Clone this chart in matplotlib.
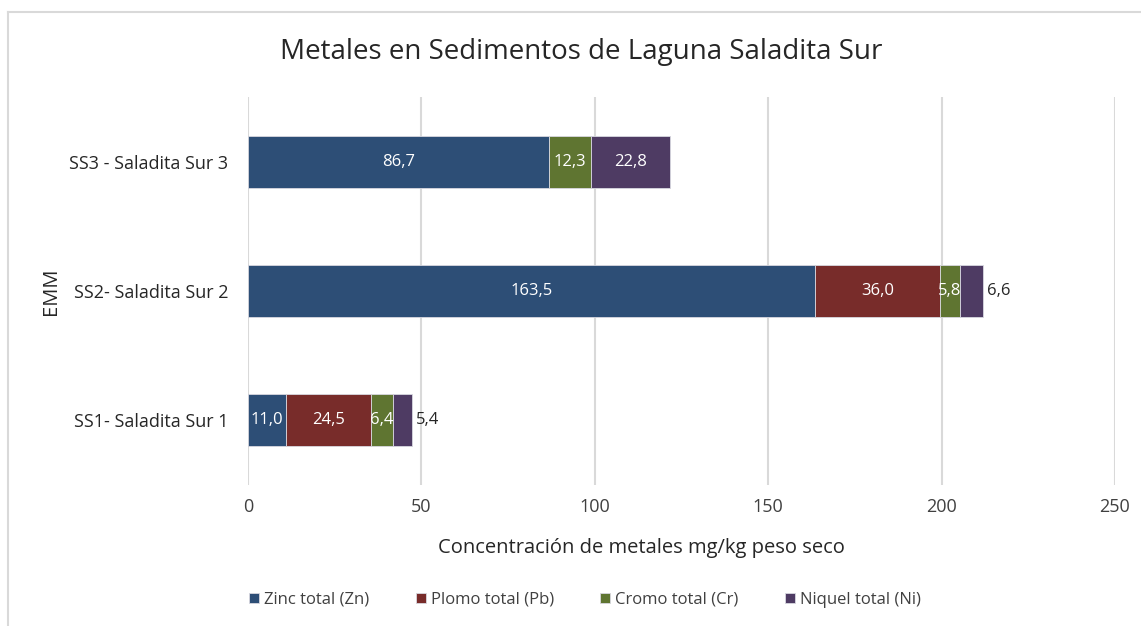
import matplotlib
matplotlib.use("Agg")
import matplotlib.pyplot as plt
import numpy as np

categories = ["SS1- Saladita Sur 1", "SS2- Saladita Sur 2", "SS3 - Saladita Sur 3"]
series_names = ["Zinc total (Zn)", "Plomo total (Pb)", "Cromo total (Cr)", "Niquel total (Ni)"]
zn = [11.0, 163.5, 86.7]
pb = [24.5, 36.0, 0.0]
cr = [6.4, 5.8, 12.3]
ni = [5.4, 6.6, 22.8]
colors = ["#2D4E76", "#782C2A", "#5F7531", "#4E3B63"]
xticks = [0, 50, 100, 150, 200, 250]

plt.rcParams['font.family'] = ['Open Sans', 'DejaVu Sans']

fig = plt.figure(figsize=(11.41, 6.26), dpi=100)
ax = fig.add_axes([248/1141, 1-485/626, (1115-248)/1141, (485-97)/626])

y = np.arange(len(categories))
left = np.zeros(len(categories))
for name, vals, col in zip(series_names, [zn, pb, cr, ni], colors):
    vals = np.array(vals)
    bars = ax.barh(y, vals, left=left, height=0.4, color=col, label=name,
                   edgecolor="#d8d8e0", linewidth=0.6)
    for i, (b, v) in enumerate(zip(bars, vals)):
        if v <= 0:
            continue
        txt = f"{v:.1f}".replace(".", ",")
        if name.startswith("Niquel") and v < 10:
            ax.annotate(txt, (left[i] + v, y[i]), xytext=(3, 0), textcoords="offset points",
                        ha="left", va="center", fontsize=12, color="#262626")
        else:
            ax.text(left[i] + v / 2, y[i], txt, ha="center", va="center",
                    fontsize=12, color="white")
    left = left + vals

ax.set_xlim(0, 250)
ax.set_ylim(-0.5, 2.5)
ax.set_xticks(xticks)
ax.set_xticklabels([str(t) for t in xticks], fontsize=13, color="#404040")
ax.set_yticks(y)
ax.set_yticklabels(categories, fontsize=13, color="#262626")
ax.tick_params(axis="both", length=0)
ax.tick_params(axis="x", pad=9)
ax.tick_params(axis="y", pad=14)
ax.grid(axis="x", color="#d9d9d9", linewidth=1.5)
ax.set_axisbelow(True)
for s in ax.spines.values():
    s.set_visible(False)

ax.set_xlabel("Concentración de metales mg/kg peso seco", fontsize=14.5, color="#262626")
ax.xaxis.set_label_coords((641-248)/867, -(548-485)/388)
ax.xaxis.label.set_va("center")
ax.set_ylabel("EMM", fontsize=14.5, color="#262626")
ax.yaxis.set_label_coords((51-248)/867, 0.5)
ax.yaxis.label.set_va("center")

fig.text(581/1141, 1-52/626, "Metales en Sedimentos de Laguna Saladita Sur",
         ha="center", va="center", fontsize=20, color="#262626")

leg = fig.legend(loc="center", bbox_to_anchor=(585/1141, 1-600/626), ncol=4, frameon=False,
                 fontsize=12, handlelength=0.6, handleheight=0.6, handletextpad=0.3,
                 columnspacing=2.8, labelcolor="#404040")

# outer chart border (top and left visible)
fig.add_artist(plt.Line2D([8/1141, 1], [1-12/626, 1-12/626], transform=fig.transFigure,
                          color="#d9d9d9", linewidth=1.5))
fig.add_artist(plt.Line2D([8/1141, 8/1141], [0, 1-12/626], transform=fig.transFigure,
                          color="#d9d9d9", linewidth=1.5))

fig.savefig("out.png", dpi=100)
